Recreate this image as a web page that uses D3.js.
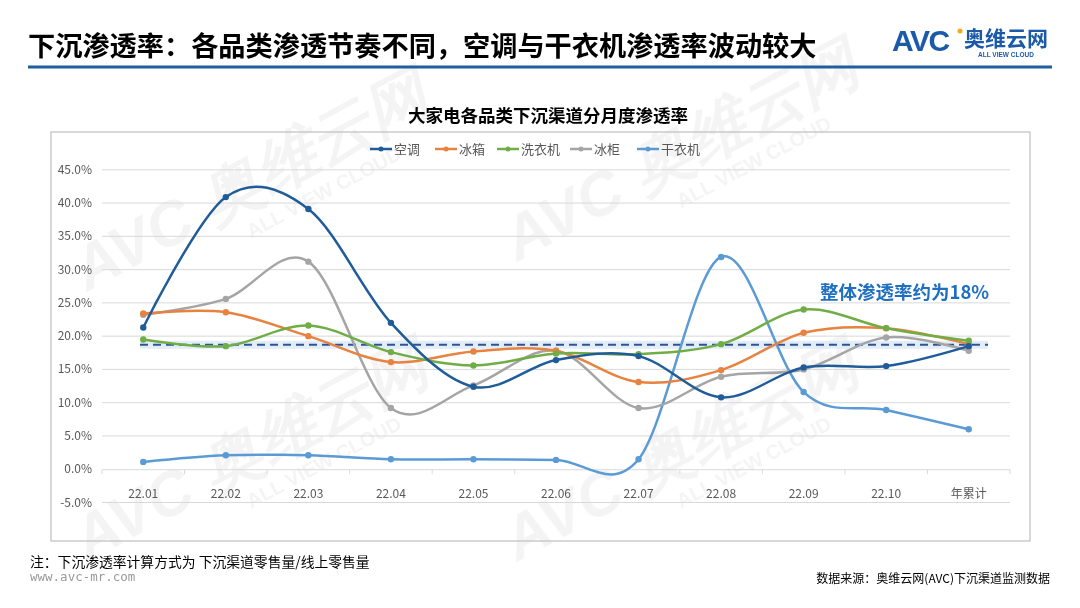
<!DOCTYPE html>
<html><head><meta charset="utf-8">
<script src="https://cdn.jsdelivr.net/npm/d3@7"></script>
<style>
body{margin:0;background:#fff;}
svg{display:block;font-family:"Noto Sans CJK SC","Noto Sans",sans-serif;}
</style></head>
<body>
<svg id="c" width="1080" height="608"></svg>
<script>
const categories = ["22.01","22.02","22.03","22.04","22.05","22.06","22.07","22.08","22.09","22.10","年累计"];
const seriesNames = ["空调","冰箱","洗衣机","冰柜","干衣机"];
const seriesColors = ["#1f5c99","#e8823f","#70ad47","#a5a5a5","#5b9bd5"];
const acValues     = [21.3, 40.9, 39.1, 22.0, 12.4, 16.4, 17.0, 10.8, 15.3, 15.5, 18.5];
const fridgeValues = [23.4, 23.6, 20.0, 16.1, 17.7, 17.8, 13.1, 14.9, 20.5, 21.2, 18.8];
const washerValues = [19.5, 18.5, 21.6, 17.6, 15.6, 17.4, 17.3, 18.8, 24.0, 21.2, 19.3];
const freezerValues= [23.2, 25.6, 31.2, 9.2, 12.6, 17.8, 9.2, 13.9, 15.0, 19.8, 17.8];
const dryerValues  = [1.1, 2.1, 2.1, 1.5, 1.5, 1.4, 1.5, 31.9, 11.6, 8.9, 6.0];
const overallRate = 18.7;
const yTicks = [-5, 0, 5, 10, 15, 20, 25, 30, 35, 40, 45];
const chartTitle = "大家电各品类下沉渠道分月度渗透率";
const pageTitle = "下沉渗透率：各品类渗透节奏不同，空调与干衣机渗透率波动较大";
const annotation = "整体渗透率约为18%";
const note = "注：下沉渗透率计算方式为 下沉渠道零售量/线上零售量";
const source = "数据来源：奥维云网(AVC)下沉渠道监测数据";

const allSeries = [acValues, fridgeValues, washerValues, freezerValues, dryerValues];
const svg = d3.select("#c");

// watermarks
const wm = svg.append("g").attr("fill","#000").attr("opacity",0.045);
[[260,200],[690,170],[260,470],[690,470]].forEach(([x,y])=>{
  const g = wm.append("g").attr("transform",`translate(${x},${y}) rotate(-28)`);
  g.append("text").attr("text-anchor","middle").attr("font-size",62).attr("font-weight","900")
    .attr("font-style","italic").attr("font-family","Liberation Sans, Arial, sans-serif").text("AVC  奥维云网");
  g.append("text").attr("x",60).attr("y",30).attr("text-anchor","middle").attr("font-size",20)
    .attr("font-weight","700").attr("font-family","Liberation Sans, Arial, sans-serif").text("ALL VIEW CLOUD");
});

// header
svg.append("text").attr("x",28).attr("y",56).attr("font-size",27.2).attr("font-weight",700)
  .attr("fill","#000").text(pageTitle);
svg.append("line").attr("x1",28).attr("x2",1052).attr("y1",67).attr("y2",67)
  .attr("stroke","#1f5fa0").attr("stroke-width",3);
// logo
svg.append("text").attr("x",892).attr("y",51).attr("font-size",30).attr("font-weight",900)
  .attr("font-family","Liberation Sans, Arial, sans-serif")
  .attr("fill","#1a5aa8").attr("letter-spacing",-1.5).text("AVC");
svg.append("circle").attr("cx",960).attr("cy",31).attr("r",2.5).attr("fill","#f5a623");
svg.append("text").attr("x",964).attr("y",46).attr("font-size",21).attr("font-weight",700)
  .attr("fill","#1a5aa8").text("奥维云网");
svg.append("text").attr("x",978).attr("y",57).attr("font-size",6.5).attr("font-weight",700)
  .attr("font-family","Liberation Sans, Arial, sans-serif").attr("fill","#1a5aa8").text("ALL VIEW CLOUD");

// chart box
svg.append("rect").attr("x",51).attr("y",132).attr("width",979).attr("height",409)
  .attr("fill","none").attr("stroke","#bfbfbf").attr("stroke-width",1.2);
svg.append("text").attr("x",548).attr("y",122).attr("text-anchor","middle").attr("font-size",17.5)
  .attr("font-weight",700).attr("fill","#000").text(chartTitle);

const x = d3.scaleBand().domain(categories).range([102,1010]);
const cx = d => x(d) + x.bandwidth()/2;
const y = d3.scaleLinear().domain([-5,45]).range([502.5,169.8]);

// grid
svg.append("g").selectAll("line").data(yTicks.filter(t=>t!==0)).join("line")
  .attr("x1",102).attr("x2",1010).attr("y1",d=>y(d)).attr("y2",d=>y(d))
  .attr("stroke","#d9d9d9").attr("stroke-width",1);
// y labels
svg.append("g").selectAll("text").data(yTicks).join("text")
  .attr("x",92).attr("y",d=>y(d)+4).attr("text-anchor","end").attr("font-size",12)
  .attr("fill","#595959").text(d=>d.toFixed(1)+"%");

// x axis at 0
const xAxis = d3.axisBottom(x).tickSize(0).tickPadding(0);
const xg = svg.append("g").attr("transform",`translate(0,${y(0)})`).call(xAxis);
xg.select(".domain").attr("stroke","#d9d9d9");
xg.selectAll(".tick text").attr("y",20).attr("font-size",12).attr("fill","#595959")
  .attr("font-family","Noto Sans CJK SC, sans-serif");
svg.append("g").selectAll("line").data(d3.range(categories.length+1)).join("line")
  .attr("x1",i=>102+i*x.bandwidth()).attr("x2",i=>102+i*x.bandwidth())
  .attr("y1",y(0)).attr("y2",y(0)+5).attr("stroke","#d9d9d9");

// overall dashed line
svg.append("rect").attr("x",140).attr("y",y(overallRate)-4).attr("width",848).attr("height",8)
  .attr("fill","#dce8f6").attr("opacity",0.8);
svg.append("line").attr("x1",140).attr("x2",988).attr("y1",y(overallRate)).attr("y2",y(overallRate))
  .attr("stroke","#2e5496").attr("stroke-width",2).attr("stroke-dasharray","8,5");

// lines
const line = d3.line().x((d,i)=>cx(categories[i])).y(d=>y(d)).curve(d3.curveCardinal.tension(0));
const drawOrder = [4,3,1,2,0];
drawOrder.forEach(si=>{
  const g = svg.append("g");
  g.append("path").datum(allSeries[si]).attr("d",line).attr("fill","none")
    .attr("stroke",seriesColors[si]).attr("stroke-width",2.5);
  g.selectAll("circle").data(allSeries[si]).join("circle")
    .attr("cx",(d,i)=>cx(categories[i])).attr("cy",d=>y(d)).attr("r",3.2)
    .attr("fill",seriesColors[si]);
});

// legend
const legX = [370, 435, 497, 570, 637];
const lg = svg.append("g");
seriesNames.forEach((n,i)=>{
  lg.append("line").attr("x1",legX[i]).attr("x2",legX[i]+22).attr("y1",149).attr("y2",149)
    .attr("stroke",seriesColors[i]).attr("stroke-width",2.5);
  lg.append("circle").attr("cx",legX[i]+11).attr("cy",149).attr("r",2.5).attr("fill",seriesColors[i]);
  lg.append("text").attr("x",legX[i]+24).attr("y",153.5).attr("font-size",13).attr("fill","#595959").text(n);
});

// annotation
svg.append("text").attr("x",820).attr("y",299).attr("font-size",18.5).attr("font-weight",700)
  .attr("fill","#1f6fc0").text(annotation);

// footer
svg.append("text").attr("x",30).attr("y",567).attr("font-size",13.8).attr("fill","#000").text(note);
svg.append("text").attr("x",30).attr("y",581).attr("font-size",12.5).attr("fill","#9a9a9a")
  .attr("font-family","DejaVu Sans Mono, monospace").text("www.avc-mr.com");
svg.append("text").attr("x",1050).attr("y",583).attr("text-anchor","end").attr("font-size",12)
  .attr("fill","#000").text(source);
</script>
</body></html>
